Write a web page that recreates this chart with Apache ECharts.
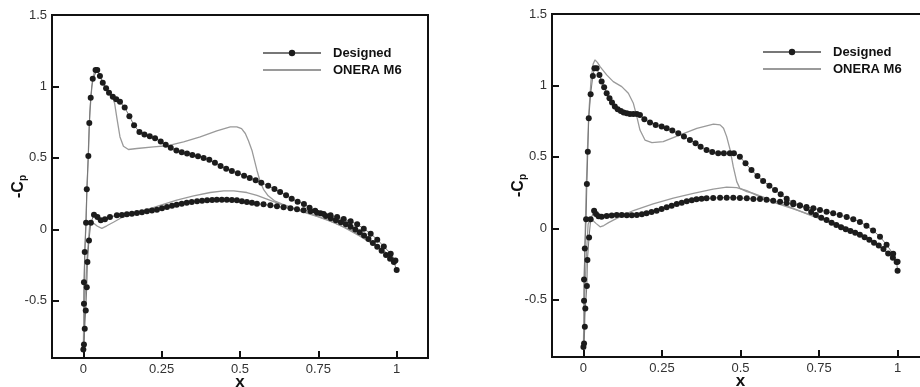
<!DOCTYPE html>
<html>
<head>
<meta charset="utf-8">
<script src="https://cdn.jsdelivr.net/npm/echarts@6/dist/echarts.min.js"></script>
<style>html,body{margin:0;padding:0;background:#fff;}#c{width:920px;height:387px;}</style>
</head>
<body>
<div id="c"></div>
<script>
// ---- tick labels ----
const xTicks = [0, 0.25, 0.5, 0.75, 1];
const yTicks = [-0.5, 0, 0.5, 1, 1.5];

// ---- LEFT panel ----
const leftDesignedUpper = [[0,-0.84],[0.002,-0.806],[0.0045,-0.696],[0.002,-0.521],[0.002,-0.37],[0.0045,-0.159],[0.0087,0.047],[0.011,0.28],[0.016,0.514],[0.019,0.745],[0.0235,0.921],[0.030,1.054],[0.039,1.115],[0.0445,1.115],[0.053,1.073],[0.062,1.026],[0.0726,0.987],[0.082,0.956],[0.094,0.928],[0.105,0.911],[0.117,0.893],[0.132,0.853],[0.147,0.792],[0.162,0.728],[0.179,0.682],[0.195,0.664],[0.212,0.652],[0.229,0.638],[0.247,0.614],[0.263,0.592],[0.279,0.571],[0.297,0.552],[0.314,0.54],[0.331,0.531],[0.348,0.521],[0.366,0.512],[0.384,0.5],[0.402,0.488],[0.42,0.467],[0.438,0.444],[0.456,0.425],[0.474,0.409],[0.493,0.393],[0.513,0.376],[0.531,0.36],[0.55,0.343],[0.568,0.327],[0.59,0.306],[0.61,0.283],[0.628,0.262],[0.647,0.238],[0.665,0.215],[0.684,0.194],[0.704,0.178],[0.722,0.152],[0.74,0.13],[0.757,0.112],[0.774,0.094],[0.79,0.078],[0.806,0.064],[0.822,0.05],[0.838,0.035],[0.853,0.018],[0.868,0.0],[0.882,-0.02],[0.896,-0.043],[0.91,-0.068],[0.924,-0.095],[0.938,-0.122],[0.952,-0.15],[0.966,-0.18],[0.979,-0.205],[0.991,-0.228],[1.0,-0.285]];
const leftDesignedLower = [[0,-0.84],[0.0077,-0.568],[0.011,-0.405],[0.013,-0.229],[0.018,-0.077],[0.024,0.047],[0.034,0.103],[0.045,0.086],[0.0556,0.063],[0.069,0.07],[0.085,0.086],[0.107,0.098],[0.123,0.101],[0.139,0.105],[0.155,0.109],[0.171,0.114],[0.187,0.12],[0.203,0.126],[0.219,0.132],[0.235,0.138],[0.251,0.147],[0.267,0.156],[0.283,0.165],[0.298,0.173],[0.314,0.18],[0.33,0.187],[0.346,0.192],[0.363,0.196],[0.379,0.2],[0.395,0.203],[0.411,0.206],[0.426,0.208],[0.442,0.208],[0.458,0.208],[0.474,0.206],[0.49,0.203],[0.506,0.197],[0.522,0.191],[0.538,0.186],[0.554,0.18],[0.575,0.175],[0.597,0.168],[0.618,0.161],[0.639,0.154],[0.661,0.147],[0.682,0.14],[0.703,0.133],[0.725,0.126],[0.746,0.117],[0.767,0.107],[0.789,0.098],[0.81,0.086],[0.831,0.072],[0.853,0.056],[0.874,0.035],[0.895,0.005],[0.917,-0.03],[0.938,-0.072],[0.959,-0.119],[0.981,-0.17],[0.996,-0.217]];
const leftOneraUpper = [[0,-0.85],[0.002,-0.5],[0.005,-0.15],[0.009,0.1],[0.013,0.35],[0.017,0.6],[0.021,0.82],[0.027,1.0],[0.034,1.09],[0.04,1.115],[0.047,1.105],[0.055,1.065],[0.065,1.015],[0.08,0.96],[0.094,0.922],[0.1,0.88],[0.107,0.78],[0.117,0.647],[0.128,0.582],[0.144,0.559],[0.171,0.566],[0.224,0.577],[0.267,0.585],[0.32,0.612],[0.373,0.647],[0.426,0.689],[0.469,0.717],[0.49,0.717],[0.505,0.705],[0.517,0.671],[0.527,0.62],[0.538,0.554],[0.554,0.414],[0.565,0.33],[0.575,0.28],[0.59,0.235],[0.61,0.2],[0.635,0.177],[0.671,0.148],[0.725,0.108],[0.778,0.068],[0.831,0.015],[0.88,-0.045],[0.93,-0.11],[0.97,-0.17],[1.0,-0.225]];
const leftOneraLower = [[0,-0.85],[0.005,-0.5],[0.012,-0.2],[0.02,0.02],[0.027,0.045],[0.035,0.04],[0.045,0.022],[0.059,0.007],[0.075,0.025],[0.096,0.05],[0.12,0.08],[0.139,0.095],[0.17,0.115],[0.192,0.13],[0.245,0.168],[0.298,0.205],[0.352,0.235],[0.405,0.258],[0.448,0.27],[0.48,0.27],[0.522,0.258],[0.554,0.238],[0.586,0.212],[0.618,0.185],[0.65,0.16],[0.7,0.122],[0.75,0.088],[0.8,0.048],[0.85,-0.002],[0.9,-0.065],[0.95,-0.135],[1.0,-0.22]];

// ---- RIGHT panel ----
const rightDesignedUpper = [[0,-0.83],[0.002,-0.805],[0.0045,-0.689],[0.002,-0.507],[0.002,-0.357],[0.0045,-0.14],[0.0086,0.063],[0.011,0.31],[0.014,0.537],[0.017,0.77],[0.023,0.938],[0.03,1.067],[0.035,1.12],[0.042,1.12],[0.051,1.074],[0.058,1.027],[0.066,0.987],[0.074,0.945],[0.083,0.91],[0.091,0.88],[0.1,0.852],[0.109,0.833],[0.119,0.822],[0.128,0.81],[0.138,0.805],[0.148,0.8],[0.159,0.8],[0.17,0.8],[0.18,0.794],[0.194,0.763],[0.212,0.74],[0.23,0.724],[0.249,0.712],[0.265,0.7],[0.283,0.684],[0.302,0.665],[0.32,0.642],[0.339,0.619],[0.357,0.595],[0.373,0.572],[0.392,0.549],[0.41,0.535],[0.429,0.525],[0.447,0.525],[0.466,0.525],[0.479,0.525],[0.498,0.502],[0.516,0.455],[0.535,0.408],[0.554,0.366],[0.572,0.331],[0.592,0.299],[0.61,0.268],[0.628,0.238],[0.647,0.208],[0.668,0.18],[0.689,0.16],[0.71,0.14],[0.725,0.115],[0.74,0.093],[0.757,0.075],[0.774,0.058],[0.79,0.04],[0.805,0.024],[0.82,0.008],[0.835,-0.006],[0.85,-0.018],[0.865,-0.03],[0.88,-0.045],[0.895,-0.062],[0.91,-0.08],[0.925,-0.1],[0.94,-0.12],[0.955,-0.145],[0.97,-0.175],[0.985,-0.205],[0.997,-0.235],[1.0,-0.296]];
const rightDesignedLower = [[0,-0.83],[0.006,-0.56],[0.011,-0.404],[0.0127,-0.222],[0.018,-0.063],[0.023,0.063],[0.034,0.123],[0.04,0.1],[0.048,0.085],[0.058,0.082],[0.074,0.086],[0.09,0.09],[0.106,0.093],[0.122,0.093],[0.138,0.091],[0.154,0.091],[0.17,0.093],[0.186,0.098],[0.201,0.105],[0.217,0.114],[0.233,0.124],[0.249,0.135],[0.265,0.147],[0.281,0.159],[0.297,0.17],[0.313,0.18],[0.329,0.189],[0.345,0.196],[0.36,0.203],[0.376,0.208],[0.392,0.21],[0.413,0.212],[0.435,0.215],[0.456,0.215],[0.477,0.215],[0.498,0.212],[0.52,0.21],[0.541,0.205],[0.562,0.205],[0.583,0.2],[0.604,0.193],[0.626,0.186],[0.647,0.178],[0.668,0.168],[0.689,0.16],[0.71,0.15],[0.732,0.14],[0.753,0.128],[0.774,0.117],[0.795,0.105],[0.816,0.093],[0.838,0.08],[0.859,0.064],[0.88,0.045],[0.901,0.018],[0.922,-0.015],[0.944,-0.058],[0.965,-0.115],[0.986,-0.178],[1.0,-0.233]];
const rightOneraUpper = [[0,-0.85],[0.002,-0.5],[0.005,-0.1],[0.008,0.2],[0.012,0.5],[0.017,0.8],[0.024,1.03],[0.031,1.15],[0.037,1.179],[0.045,1.16],[0.053,1.132],[0.074,1.074],[0.095,1.027],[0.122,0.992],[0.143,0.945],[0.159,0.875],[0.17,0.782],[0.18,0.688],[0.196,0.618],[0.218,0.6],[0.254,0.607],[0.308,0.654],[0.361,0.7],[0.414,0.73],[0.435,0.724],[0.446,0.7],[0.456,0.642],[0.467,0.549],[0.477,0.432],[0.488,0.327],[0.498,0.28],[0.52,0.257],[0.541,0.245],[0.583,0.21],[0.626,0.175],[0.668,0.14],[0.721,0.093],[0.774,0.05],[0.827,0.005],[0.88,-0.045],[0.933,-0.11],[1.0,-0.235]];
const rightOneraLower = [[0,-0.85],[0.004,-0.5],[0.009,-0.2],[0.015,0.03],[0.022,0.06],[0.03,0.055],[0.04,0.035],[0.053,0.011],[0.065,0.02],[0.08,0.04],[0.106,0.07],[0.159,0.125],[0.222,0.172],[0.286,0.212],[0.35,0.245],[0.413,0.275],[0.456,0.288],[0.488,0.285],[0.52,0.264],[0.562,0.22],[0.615,0.175],[0.668,0.136],[0.721,0.096],[0.774,0.058],[0.827,0.015],[0.88,-0.035],[0.933,-0.105],[1.0,-0.235]];

const FONT = 'Liberation Sans, Arial, Helvetica, sans-serif';
const chart = echarts.init(document.getElementById('c'), null, {renderer:'canvas'});

function loop(upper, lower){ return upper.slice().reverse().concat(lower.slice(1)); }

function xAx(gi){
  return {
    type:'value', gridIndex:gi, min:-0.1, max:1.1,
    name:'x', nameLocation:'middle', nameGap:16, nameMoveOverlap:false,
    nameTextStyle:{fontFamily:FONT, fontWeight:'bold', fontSize:17, color:'#111'},
    axisLine:{show:true, onZero:false, lineStyle:{color:'#111', width:2}},
    axisTick:{show:true, inside:true, length:7, customValues:xTicks, lineStyle:{color:'#111', width:2}},
    axisLabel:{customValues:xTicks, margin:5, fontFamily:FONT, fontSize:13, color:'#333',
      formatter:(v)=>String(v)},
    splitLine:{show:false}
  };
}
function yAx(gi){
  return {
    type:'value', gridIndex:gi, min:-0.9, max:1.5,
    name:'{c|-C}{p|p}', nameLocation:'middle', nameGap:24, nameRotate:90, nameMoveOverlap:false,
    nameTextStyle:{rich:{
      c:{fontFamily:FONT, fontWeight:'bold', fontSize:16, color:'#111', lineHeight:18, verticalAlign:'middle'},
      p:{fontFamily:FONT, fontWeight:'bold', fontSize:10, color:'#111', lineHeight:18, verticalAlign:'bottom', padding:[8,0,0,0]}
    }},
    axisLine:{show:true, onZero:false, lineStyle:{color:'#111', width:2}},
    axisTick:{show:true, inside:true, length:7, customValues:yTicks, lineStyle:{color:'#111', width:2}},
    axisLabel:{customValues:yTicks, margin:5, fontFamily:FONT, fontSize:13, color:'#333',
      formatter:(v)=>String(v)},
    splitLine:{show:false}
  };
}
function designed(gi, data){
  return {name:'Designed', type:'line', xAxisIndex:gi, yAxisIndex:gi, data:data,
    symbol:'circle', symbolSize:6, showSymbol:true, showAllSymbol:true, animation:false,
    lineStyle:{color:'#777', width:1}, itemStyle:{color:'#1c1c1c'}, z:3};
}
function onera(gi, data){
  return {name:'ONERA M6', type:'line', xAxisIndex:gi, yAxisIndex:gi, data:data,
    symbol:'none', animation:false, lineStyle:{color:'#9a9a9a', width:1.3}, itemStyle:{color:'#9a9a9a'}, z:2};
}
function legendAt(left, top){
  return {orient:'vertical', left:left, top:top, padding:0, itemWidth:58, itemHeight:8, itemGap:3,
    data:['Designed', {name:'ONERA M6', itemStyle:{opacity:0}}], selectedMode:false,
    textStyle:{fontFamily:FONT, fontWeight:'bold', fontSize:13, color:'#111', padding:[0,0,0,7], lineHeight:14}};
}

chart.setOption({
  animation:false,
  backgroundColor:'#fff',
  grid:[
    {left:52, top:15, width:376, height:343, show:true, borderColor:'#111', borderWidth:2, outerBoundsMode:'none', containLabel:false},
    {left:552, top:14, width:377, height:343, show:true, borderColor:'#111', borderWidth:2, outerBoundsMode:'none', containLabel:false}
  ],
  xAxis:[xAx(0), xAx(1)],
  yAxis:[yAx(0), yAx(1)],
  legend:[legendAt(262,46), legendAt(762,45)],
  series:[
    onera(0, leftOneraUpper), onera(0, leftOneraLower),
    designed(0, loop(leftDesignedUpper, leftDesignedLower)),
    onera(1, rightOneraUpper), onera(1, rightOneraLower),
    designed(1, loop(rightDesignedUpper, rightDesignedLower))
  ]
});
</script>
</body>
</html>
